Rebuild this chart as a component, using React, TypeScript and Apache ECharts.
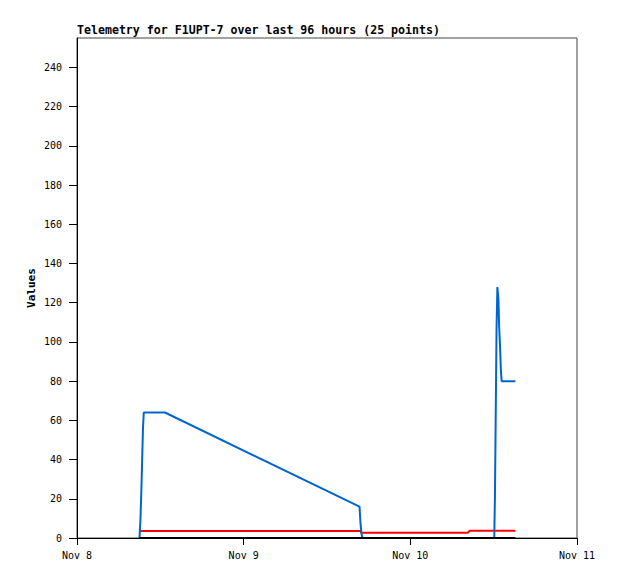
import React, { useEffect, useRef } from "react";
import * as echarts from "echarts";

const times = [
  "2023-11-08T09:00:00Z",
  "2023-11-08T09:08:00Z",
  "2023-11-08T09:16:00Z",
  "2023-11-08T09:23:00Z",
  "2023-11-08T09:30:00Z",
  "2023-11-08T09:37:00Z",
  "2023-11-08T12:40:00Z",
  "2023-11-09T16:41:00Z",
  "2023-11-09T16:49:00Z",
  "2023-11-09T16:57:00Z",
  "2023-11-09T17:06:00Z",
  "2023-11-10T08:18:00Z",
  "2023-11-10T08:31:00Z",
  "2023-11-10T12:05:00Z",
  "2023-11-10T12:11:00Z",
  "2023-11-10T12:18:00Z",
  "2023-11-10T12:25:00Z",
  "2023-11-10T12:32:00Z",
  "2023-11-10T12:41:00Z",
  "2023-11-10T12:48:00Z",
  "2023-11-10T12:55:00Z",
  "2023-11-10T13:02:00Z",
  "2023-11-10T13:09:00Z",
  "2023-11-10T14:04:00Z",
  "2023-11-10T15:08:00Z",
];

const blueValues = [0, 9, 24, 40, 56, 64, 64, 16, 8, 2.5, 0, 0, 0, 0, 21, 64, 107, 128, 122, 107, 98, 86, 80, 80, 80];
const redValues = [3.6, 3.6, 3.6, 3.6, 3.6, 3.6, 3.6, 3.6, 3.6, 2.7, 2.7, 2.7, 3.7, 3.7, 3.7, 3.7, 3.7, 3.7, 3.7, 3.7, 3.7, 3.7, 3.7, 3.7, 3.7];
const blackValues = [0, 0, 0, 0, 0, 0, 0, 0, 0, 0, 0, 0, 0, 0, 0, 0, 0, 0, 0, 0, 0, 0, 0, 0, 0];

const yTicks = [0, 20, 40, 60, 80, 100, 120, 140, 160, 180, 200, 220, 240];
const xStart = "2023-11-08T00:00:00Z";
const xEnd = "2023-11-11T00:00:00Z";
const monthNames = ["Jan", "Feb", "Mar", "Apr", "May", "Jun", "Jul", "Aug", "Sep", "Oct", "Nov", "Dec"];

const titleText = "Telemetry for F1UPT-7 over last 96 hours (25 points)";
const yName = "Values";

const DAY = 86400000;
const labelFont = "DejaVu Sans Mono";

function pairs(vals: number[]) {
  return vals.map((v, i) => [Date.parse(times[i]), v]);
}

export default function App() {
  const ref = useRef<HTMLDivElement>(null);
  useEffect(() => {
    if (!ref.current) return;
    const chart = echarts.init(ref.current, null, { renderer: "svg" });
    const lineSeries = (name: string, vals: number[], color: string) => ({
      name,
      type: "line",
      data: pairs(vals),
      showSymbol: false,
      symbol: "none",
      lineStyle: { color, width: 2 },
      itemStyle: { color },
      z: 3,
    });
    chart.setOption({
      animation: false,
      backgroundColor: "#ffffff",
      title: {
        text: titleText,
        left: 77,
        top: 24,
        padding: 0,
        textStyle: {
          fontFamily: labelFont,
          fontSize: 11.6,
          fontWeight: "bold",
          color: "#000",
        },
      },
      grid: {
        left: 77,
        right: 41,
        top: 38,
        bottom: 41,
        show: true,
        borderColor: "#444444",
        borderWidth: 1,
        backgroundColor: "transparent",
      },
      xAxis: {
        type: "value",
        min: Date.parse(xStart),
        max: Date.parse(xEnd),
        interval: DAY,
        axisLine: { show: true, lineStyle: { color: "#000", width: 1 } },
        axisTick: { show: true, length: 7, lineStyle: { color: "#000" } },
        splitLine: { show: false },
        axisLabel: {
          margin: 12,
          color: "#000",
          fontFamily: labelFont,
          fontSize: 10,
          formatter: (v: number) => {
            const d = new Date(v);
            return monthNames[d.getUTCMonth()] + " " + d.getUTCDate();
          },
        },
      },
      yAxis: {
        type: "value",
        min: 0,
        max: 255,
        interval: 20,
        name: yName,
        nameLocation: "middle",
        nameRotate: 90,
        nameGap: 40,
        nameMoveOverlap: false,
        nameTextStyle: {
          fontFamily: labelFont,
          fontSize: 11,
          fontWeight: "bold",
          color: "#000",
        },
        axisLine: { show: true, lineStyle: { color: "#000", width: 1 } },
        axisTick: { show: true, length: 8, customValues: yTicks, lineStyle: { color: "#000" } },
        splitLine: { show: false },
        axisLabel: {
          margin: 15,
          color: "#000",
          fontFamily: labelFont,
          fontSize: 10,
          customValues: yTicks,
        },
      },
      series: [
        lineSeries("red", redValues, "#ff0000"),
        lineSeries("blue", blueValues, "#0066cc"),
        lineSeries("black", blackValues, "#000000"),
      ],
    });
    return () => chart.dispose();
  }, []);
  return (
    <div
      ref={ref}
      style={{ position: "absolute", left: 0, top: 0, width: 618, height: 579, background: "#fff" }}
    />
  );
}
